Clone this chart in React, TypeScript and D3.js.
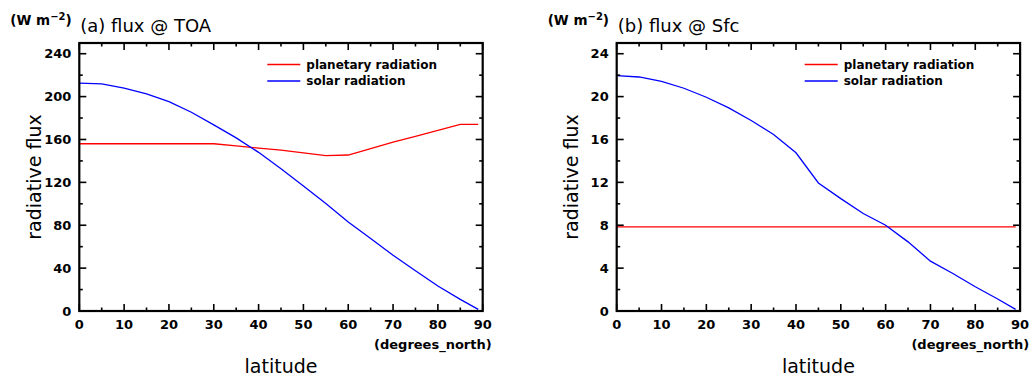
import React from "react";
import * as d3 from "d3";

// Latitudes (degrees north) at which the zonal-mean fluxes are sampled
const latitudes = [0, 5, 10, 15, 20, 25, 30, 35, 40, 45, 50, 55, 60, 65, 70, 75, 80, 85, 89];

// (a) top-of-atmosphere fluxes, W m-2
const toaPlanetary = [156, 156, 156, 156, 156, 156, 156, 154, 152, 150, 147.5, 145, 145.5, 151.5, 157.5, 163, 168.5, 174, 174];
const toaSolar = [212.5, 211.8, 208, 202.5, 195.3, 185.4, 173.6, 161.5, 148, 132.7, 116.6, 100.2, 83, 67.6, 52, 37.5, 23.3, 10.9, 1.5];

// (b) surface fluxes, W m-2
const sfcPlanetary = [7.85, 7.85, 7.85, 7.85, 7.85, 7.85, 7.85, 7.85, 7.85, 7.85, 7.85, 7.85, 7.85, 7.85, 7.85, 7.85, 7.85, 7.85, 7.85];
const sfcSolar = [21.95, 21.83, 21.43, 20.78, 19.94, 18.95, 17.77, 16.47, 14.76, 11.94, 10.48, 9.09, 8.0, 6.45, 4.65, 3.5, 2.26, 1.12, 0.15];

const seriesNames = ["planetary radiation", "solar radiation"];
const seriesColors = ["#ff0000", "#0000ff"];

const toaYTicks = [0, 40, 80, 120, 160, 200, 240];
const sfcYTicks = [0, 4, 8, 12, 16, 20, 24];
const xTicks = [0, 10, 20, 30, 40, 50, 60, 70, 80, 90];

const FONT = "'DejaVu Sans', sans-serif";

type PanelProps = {
  left: number;
  title: string;
  yMax: number;
  yTicks: number[];
  yMinorStep: number;
  series: number[][];
};

function Panel({ left, title, yMax, yTicks, yMinorStep, series }: PanelProps) {
  const plotW = 403.4;
  const top = 43;
  const bottom = 311;
  const x = d3.scaleLinear().domain([0, 90]).range([left, left + plotW]);
  const y = d3.scaleLinear().domain([0, yMax]).range([bottom, top]);
  const right = x(90);

  const line = d3
    .line<[number, number]>()
    .x((d) => x(d[0]))
    .y((d) => y(d[1]));

  const xMinor = d3.range(0, 91, 5).filter((v) => v % 10 !== 0);
  const yMinor = d3.range(0, yMax + 0.001, yMinorStep).filter((v) => !yTicks.includes(v));
  const major = 7;
  const minor = 3.5;

  return (
    <g>
      {/* data curves */}
      {series.map((vals, i) => (
        <path
          key={i}
          d={line(latitudes.map((lat, j) => [lat, vals[j]] as [number, number])) || ""}
          fill="none"
          stroke={seriesColors[i]}
          strokeWidth={1.3}
        />
      ))}

      {/* inward tick marks on all four sides */}
      <g stroke="#000" strokeWidth={1.6}>
        {xTicks.map((v) => (
          <g key={"xm" + v}>
            <line x1={x(v)} x2={x(v)} y1={bottom} y2={bottom - major} />
            <line x1={x(v)} x2={x(v)} y1={top} y2={top + major} />
          </g>
        ))}
        {xMinor.map((v) => (
          <g key={"xn" + v}>
            <line x1={x(v)} x2={x(v)} y1={bottom} y2={bottom - minor} />
            <line x1={x(v)} x2={x(v)} y1={top} y2={top + minor} />
          </g>
        ))}
        {yTicks.map((v) => (
          <g key={"ym" + v}>
            <line x1={left} x2={left + major} y1={y(v)} y2={y(v)} />
            <line x1={right} x2={right - major} y1={y(v)} y2={y(v)} />
          </g>
        ))}
        {yMinor.map((v) => (
          <g key={"yn" + v}>
            <line x1={left} x2={left + minor} y1={y(v)} y2={y(v)} />
            <line x1={right} x2={right - minor} y1={y(v)} y2={y(v)} />
          </g>
        ))}
      </g>

      {/* frame */}
      <rect x={left} y={top} width={right - left} height={bottom - top} fill="none" stroke="#000" strokeWidth={2.2} />

      {/* tick labels */}
      <g fontFamily={FONT} fontWeight="bold" fontSize={13} fill="#000">
        {yTicks.map((v) => (
          <text key={"yl" + v} x={left - 8} y={y(v)} dy="0.36em" textAnchor="end">
            {v}
          </text>
        ))}
        {xTicks.map((v) => (
          <text key={"xl" + v} x={x(v)} y={329} textAnchor="middle">
            {v}
          </text>
        ))}
      </g>
      <text x={right + 9} y={349} textAnchor="end" fontFamily={FONT} fontWeight="bold" fontSize={13}>
        (degrees_north)
      </text>

      {/* axis titles */}
      <text x={(left + right) / 2} y={373} textAnchor="middle" fontFamily={FONT} fontSize={19}>
        latitude
      </text>
      <text
        transform={`translate(${left - 45},${177}) rotate(-90)`}
        textAnchor="middle"
        dy="0.35em"
        fontFamily={FONT}
        fontSize={19}
      >
        radiative flux
      </text>

      {/* units and panel title */}
      <text x={left - 69} y={25} fontFamily={FONT} fontWeight="bold" fontSize={13.5}>
        (W m
        <tspan dy={-5} fontSize={10}>
          −2
        </tspan>
        <tspan dy={5}>)</tspan>
      </text>
      <text x={left + 1} y={32} fontFamily={FONT} fontSize={18}>
        {title}
      </text>

      {/* legend */}
      {seriesNames.map((name, i) => (
        <g key={name}>
          <line
            x1={left + 188}
            x2={left + 221}
            y1={64.5 + i * 16.5}
            y2={64.5 + i * 16.5}
            stroke={seriesColors[i]}
            strokeWidth={1.3}
          />
          <text x={left + 227} y={64.5 + i * 16.5} dy="0.36em" fontFamily={FONT} fontWeight="bold" fontSize={12}>
            {name}
          </text>
        </g>
      ))}
    </g>
  );
}

export default function App() {
  return (
    <svg
      width={1034}
      height={382}
      style={{ position: "absolute", left: 0, top: 0, background: "#fff" }}
    >
      <rect width={1034} height={382} fill="#fff" />
      <Panel
        left={79.3}
        title="(a) flux @ TOA"
        yMax={250}
        yTicks={toaYTicks}
        yMinorStep={20}
        series={[toaPlanetary, toaSolar]}
      />
      <Panel
        left={616.7}
        title="(b) flux @ Sfc"
        yMax={25}
        yTicks={sfcYTicks}
        yMinorStep={2}
        series={[sfcPlanetary, sfcSolar]}
      />
    </svg>
  );
}
